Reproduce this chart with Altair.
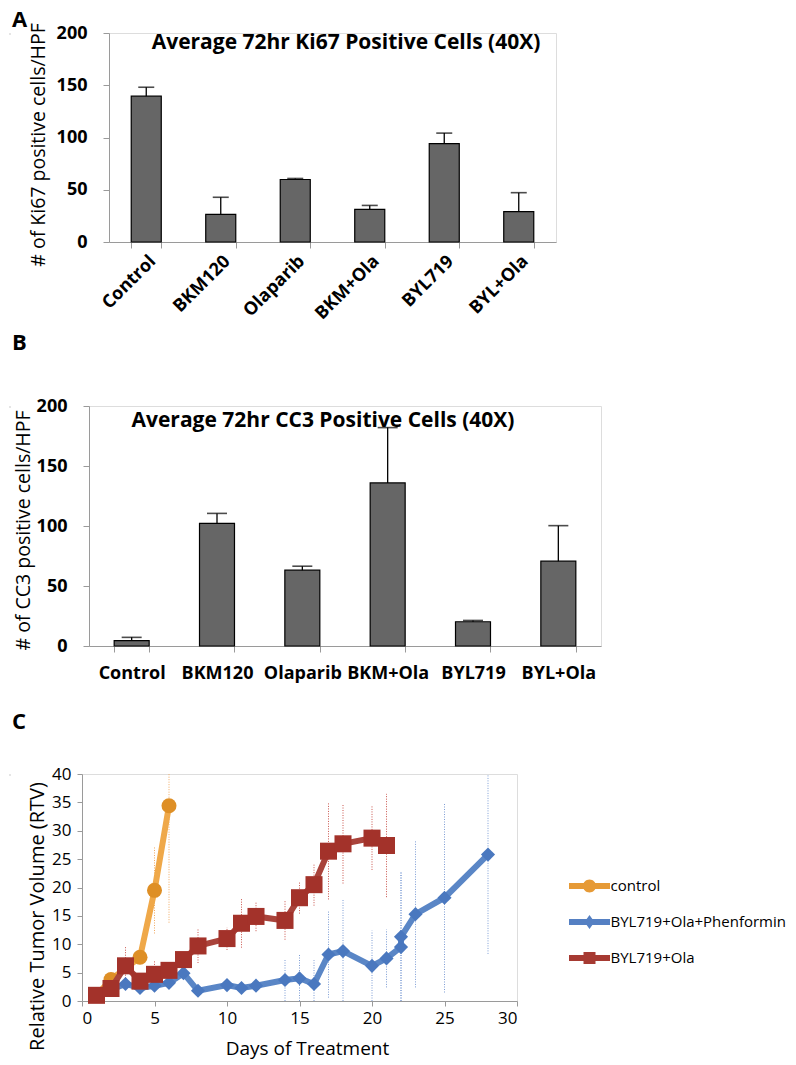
import altair as alt
import pandas as pd

FONT = "Open Sans"

# ---------------- data ----------------
cats = ["Control", "BKM120", "Olaparib", "BKM+Ola", "BYL719", "BYL+Ola"]
ki67_mean = [139.5, 26.5, 59.8, 31.3, 94.2, 29.0]
ki67_err = [8.6, 16.3, 1.0, 3.7, 10.0, 18.2]
cc3_mean = [4.4, 102.2, 63.2, 135.9, 20.2, 70.7]
cc3_err = [2.8, 8.3, 3.3, 46.1, 1.1, 29.6]

series_names = ["control", "BYL719+Ola+Phenformin", "BYL719+Ola"]

ctrl_days = [1, 2, 4, 5, 6]
ctrl_rtv = [1.0, 3.8, 7.7, 19.5, 34.4]
ctrl_err = [0.3, 0.8, 1.2, 7.6, 20.6]

phen_days = [1, 3, 4, 5, 6, 7, 8, 10, 11, 12, 14, 15, 16, 17, 18, 20, 21, 22, 22, 23, 25, 28]
phen_rtv = [1.0, 3.0, 2.3, 2.7, 3.2, 4.9, 1.8, 2.8, 2.3, 2.7, 3.7, 4.0, 3.0, 8.2, 8.8, 6.2, 7.5,
            9.5, 11.3, 15.3, 18.2, 25.8]
phen_err = [0.3, 0.5, 0.5, 0.5, 0.5, 0.5, 0.5, 0.5, 0.5, 0.5, 3.7, 4.3, 4.2, 7.6, 9.2, 6.2, 5.1,
            13.4, 11.6, 12.9, 16.7, 17.5]

ola_days = [1, 2, 3, 4, 5, 6, 7, 8, 10, 11, 12, 14, 15, 16, 17, 18, 20, 21]
ola_rtv = [1.0, 2.2, 6.2, 3.5, 4.7, 5.4, 7.3, 9.7, 11.0, 13.7, 14.9, 14.2, 18.2, 20.5, 26.4, 27.7,
           28.7, 27.4]
ola_err = [0.3, 0.8, 3.5, 1.0, 2.3, 1.5, 1.5, 3.0, 2.0, 4.3, 2.6, 3.4, 2.8, 3.7, 8.5, 7.0, 5.6, 9.1]

GREY = "#9a9a9a"


def text_layer(txt, x, y, size, weight="bold", align="left", baseline="alphabetic", opacity=1):
    return alt.Chart(pd.DataFrame({"t": [txt]})).mark_text(
        font=FONT, fontSize=size, fontWeight=weight, align=align, baseline=baseline,
        color="black", opacity=opacity
    ).encode(text="t:N", x=alt.value(x), y=alt.value(y))


def spacer(w):
    return alt.Chart(pd.DataFrame({"v": [0]})).mark_rect(opacity=0).encode(
        x=alt.value(0), x2=alt.value(w), y=alt.value(0), y2=alt.value(1)
    ).properties(width=w, height=1)


def bar_panel(title, title_x, title_y, ytitle, ytitle_x, ytitle_dy, means, errs, W, H,
              pad_inner, cap, angle, label_pad, letters):
    df = pd.DataFrame({"cat": cats, "mean": means, "err": errs})
    base = alt.Chart(df).transform_calculate(upper="datum.mean + datum.err")
    xaxis = alt.Axis(title=None, labelAngle=angle, labelFont=FONT, labelFontSize=18,
                     labelFontWeight="bold", labelColor="black", tickBand="extent", tickSize=6,
                     tickColor=GREY, domainColor=GREY, labelPadding=label_pad, labelOverlap=False)
    yaxis = alt.Axis(values=[0, 50, 100, 150, 200], grid=False, title=ytitle, titleFont=FONT,
                     titleFontSize=19.5, titleFontWeight="normal", titleColor="black",
                     titleX=ytitle_x, titleY=H / 2 + ytitle_dy, titleBaseline="middle",
                     titleAngle=270,
                     labelFont=FONT, labelFontSize=18, labelFontWeight="bold", labelColor="black",
                     tickSize=6, tickColor=GREY, domainColor=GREY, labelPadding=16,
                     labelOverlap=False)
    xenc = alt.X("cat:N", sort=cats,
                 scale=alt.Scale(paddingInner=pad_inner, paddingOuter=pad_inner / 2), axis=xaxis)
    yenc = alt.Y("mean:Q", scale=alt.Scale(domain=[0, 200]), axis=yaxis)
    bars = base.mark_bar(color="#666666", stroke="black", strokeWidth=1.2).encode(x=xenc, y=yenc)
    rule = base.mark_rule(color="black", strokeWidth=1.3).encode(x=xenc, y=yenc, y2="upper:Q")
    capm = base.mark_tick(color="black", size=cap, thickness=1.6).encode(
        x=xenc, y=alt.Y("upper:Q", scale=alt.Scale(domain=[0, 200]), axis=yaxis))
    layers = [bars, rule, capm, text_layer(title, title_x, title_y, 21, align="center")]
    for (lt, lx, ly) in letters:
        layers.append(text_layer(lt, lx, ly, 22))
    return alt.layer(*layers).properties(width=W, height=H)


panelA = bar_panel("Average 72hr Ki67 Positive Cells (40X)", 237, 16,
                   "# of Ki67 positive cells/HPF", -71, 7, ki67_mean, ki67_err,
                   447, 209, 0.597, 16, -45, 4,
                   [("A", -97, -6), ("B", -97, 317)])
panelB = bar_panel("Average 72hr CC3 Positive Cells (40X)", 234, 21,
                   "# of CC3 positive cells/HPF", -66, 4, cc3_mean, cc3_err,
                   512, 240, 0.59, 20, 0, 12,
                   [("C", -77, 323)])

# ---------------- panel C ----------------
frames = []
for name, d, v, e in [(series_names[0], ctrl_days, ctrl_rtv, ctrl_err),
                      (series_names[1], phen_days, phen_rtv, phen_err),
                      (series_names[2], ola_days, ola_rtv, ola_err)]:
    frames.append(pd.DataFrame({"series": name, "day": d, "rtv": v, "err": e,
                                "idx": list(range(len(d)))}))
tumor = pd.concat(frames, ignore_index=True)

line_colors = ["#EFA849", "#5A86C6", "#A9433B"]
marker_colors = ["#DE8F26", "#4A78BF", "#A3322A"]
err_colors = ["#F0A860", "#7C9CD4", "#C9544C"]
shapes = ["circle", "diamond", "square"]
sizes = [225, 200, 290]

W_C, H_C = 435, 227
xaxisC = alt.Axis(values=list(range(0, 31, 5)), grid=False, title="Days of Treatment",
                  titleFont=FONT, titleFontSize=19, titleFontWeight="normal",
                  titleColor="black", titleX=225, titleY=47, titleBaseline="middle",
                  labelFont=FONT, labelFontSize=17, labelColor="black", tickSize=5,
                  tickColor=GREY, domainColor=GREY, labelPadding=4, labelOverlap=False)
yaxisC = alt.Axis(values=list(range(0, 41, 5)), grid=False,
                  title="Relative Tumor Volume (RTV)", titleFont=FONT, titleFontSize=20,
                  titleFontWeight="normal", titleColor="black", titleX=-45, titleY=142,
                  titleBaseline="middle", titleAngle=270,
                  labelFont=FONT, labelFontSize=17, labelColor="black", tickSize=5,
                  tickColor=GREY, domainColor=GREY, labelPadding=6, labelOverlap=False)
xscaleC = alt.Scale(domain=[0, 30], nice=False)
yscaleC = alt.Scale(domain=[0, 40], nice=False)
xC = alt.X("day:Q", scale=xscaleC, axis=xaxisC)
yC = alt.Y("rtv:Q", scale=yscaleC, axis=yaxisC)

baseC = alt.Chart(tumor)
c_layers = []
for i, name in enumerate(series_names):
    c_layers.append(baseC.transform_filter(alt.datum.series == name).transform_calculate(
        lo="max(datum.rtv - datum.err, 0)", hi="min(datum.rtv + datum.err, 40)"
    ).mark_rule(strokeWidth=1, strokeDash=[1, 1.5], color=err_colors[i]).encode(
        x=xC, y=alt.Y("lo:Q", scale=yscaleC, axis=yaxisC), y2="hi:Q"))
for i, name in enumerate(series_names):
    sub = baseC.transform_filter(alt.datum.series == name)
    c_layers.append(sub.mark_line(strokeWidth=6, color=line_colors[i]).encode(
        x=xC, y=yC, order="idx:Q"))
    c_layers.append(sub.mark_point(filled=True, opacity=1, shape=shapes[i], size=sizes[i],
                                   color=marker_colors[i]).encode(x=xC, y=yC))

# legend symbols: a line segment with the marker on it (all sub-paths clockwise)
leg_paths = [
    "M-2.05,-0.3L2.05,-0.3L2.05,0.3L-2.05,0.3Z M-0.65,0A0.65,0.65 0 1,1 0.65,0A0.65,0.65 0 1,1 -0.65,0Z",
    "M-2.05,-0.3L2.05,-0.3L2.05,0.3L-2.05,0.3Z M0,-0.7L0.5,0L0,0.7L-0.5,0Z",
    "M-2.05,-0.3L2.05,-0.3L2.05,0.3L-2.05,0.3Z M-0.6,-0.6L0.6,-0.6L0.6,0.6L-0.6,0.6Z",
]
legend_colors = ["#E69A36", "#5580C3", "#A63A32"]
leg = alt.Legend(title=None, orient="none", legendX=497.5, legendY=102, labelFont=FONT,
                 labelFontSize=15, labelColor="black", symbolSize=400, symbolStrokeWidth=0,
                 symbolOpacity=1, rowPadding=18, labelOffset=11, padding=0, labelLimit=400)
legend_layer = alt.Chart(pd.DataFrame({"series": series_names})).mark_point(
    filled=True, opacity=0).encode(
    x=alt.value(0), y=alt.value(0),
    shape=alt.Shape("series:N", scale=alt.Scale(domain=series_names, range=leg_paths), legend=leg),
    fill=alt.Fill("series:N", scale=alt.Scale(domain=series_names, range=legend_colors), legend=leg),
)
c_layers.append(legend_layer)
# invisible anchor that fixes the panel's left extent
c_layers.append(text_layer(".", -70, 120, 10, opacity=0))

panelC = alt.layer(*c_layers).properties(width=W_C, height=H_C)

rowA = alt.hconcat(spacer(1), panelA, spacing=0)
rowB = alt.hconcat(spacer(1), panelB, spacing=0)
rowC = alt.hconcat(spacer(1), panelC, spacing=0).resolve_scale(
    fill="independent", shape="independent").resolve_legend(
    fill="independent", shape="independent")

top = alt.vconcat(rowA, rowB, spacing=41)
chart = alt.vconcat(top, rowC, spacing=30).resolve_scale(
    fill="independent", shape="independent").resolve_legend(
    fill="independent", shape="independent").properties(
    padding=0
).configure_view(stroke=None).configure(font=FONT)

chart.save("out.html", embed_options={"renderer": "svg", "actions": False})
